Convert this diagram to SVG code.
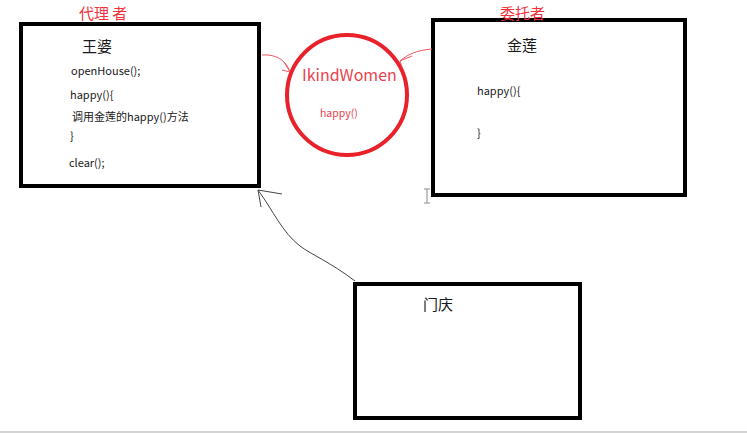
<svg xmlns="http://www.w3.org/2000/svg" width="747" height="433" viewBox="0 0 747 433">
<style>
.box{fill:#fff;stroke:#000;stroke-width:4}
.t{font-family:"Noto Sans CJK SC","Noto Sans",sans-serif;fill:#1a1a1a}
.h{font-size:15px}
.c{font-size:11px}
.r{fill:#f0323c}
.p{fill:#e8434f}
.rl{fill:none;stroke:#f05a60;stroke-width:1}
.bl{fill:none;stroke:#444;stroke-width:1}
</style>
<rect width="747" height="433" fill="#fff"/>
<line x1="0" y1="432" x2="747" y2="432" stroke="#d4d4d4" stroke-width="2"/>
<g id="wangpo">
<rect class="box" x="21" y="24" width="238" height="162"/>
<text class="t r h" x="79" y="19">代理 者</text>
<text class="t h" x="82" y="52">王婆</text>
<text class="t c" x="71" y="75">openHouse();</text>
<text class="t c" x="70" y="99">happy(){</text>
<text class="t c" x="72" y="121">调用金莲的happy()方法</text>
<text class="t c" x="70" y="140">}</text>
<text class="t c" x="69" y="167">clear();</text>
</g>
<g id="ikindwomen">
<circle cx="347" cy="95" r="60" fill="#fff" stroke="#e8212b" stroke-width="4"/>
<text class="t p" x="302" y="81" font-size="16">IkindWomen</text>
<text class="t p" x="320" y="117" font-size="10.5">happy()</text>
</g>
<g id="jinlian">
<rect class="box" x="433" y="20" width="252" height="175"/>
<text class="t r h" x="500" y="19">委托者</text>
<text class="t h" x="507" y="51">金莲</text>
<text class="t c" x="477" y="95">happy(){</text>
<text class="t c" x="477" y="137">}</text>
</g>
<g id="menqing">
<rect class="box" x="355" y="284" width="225" height="134"/>
<text class="t h" x="423" y="310">门庆</text>
</g>
<g id="connectors">
<path class="rl" d="M262,55 C276,54 286,60 290,72"/>
<path class="rl" d="M284,62 L290,72 M282,70 L290,72"/>
<path class="rl" d="M432,49 C418,50 408,54 400,61"/>
<path class="rl" d="M400,61 L412,56 M400,61 L402,67"/>
<path class="bl" d="M355,281 C330,262 312,255 300,246 C282,232 274,212 258,190"/>
<path class="bl" d="M258,190 L282,194 M258,190 L261,207"/>
</g>
<g id="cursor" stroke="#888" stroke-width="1" fill="none">
<path d="M427,189 V203 M424,189 H430 M424,203 H430"/>
</g>
</svg>
